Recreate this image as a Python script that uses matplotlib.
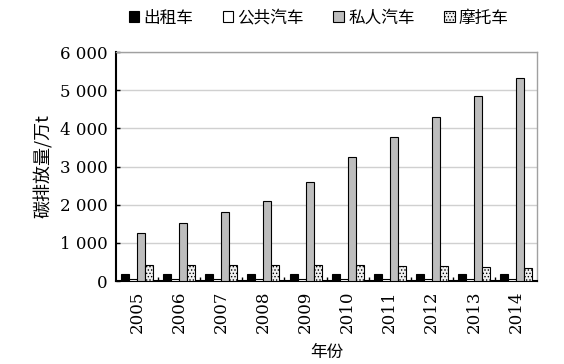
import numpy as np
import matplotlib
matplotlib.use('Agg')
import matplotlib.pyplot as plt
from matplotlib.ticker import FuncFormatter, MultipleLocator

plt.rcParams['font.family'] = ['DejaVu Serif']
plt.rcParams['hatch.linewidth'] = 0.6
cjk = ['Noto Sans CJK SC', 'DejaVu Sans']

# data (万t)
years = ['2005', '2006', '2007', '2008', '2009', '2010', '2011', '2012', '2013', '2014']
taxi = [180, 180, 180, 180, 180, 180, 180, 180, 180, 180]
bus = [50, 50, 50, 50, 50, 50, 50, 50, 50, 50]
private_car = [1260, 1510, 1800, 2100, 2600, 3250, 3770, 4300, 4840, 5330]
motorcycle = [430, 430, 430, 420, 420, 410, 400, 400, 370, 330]
series_names = ['出租车', '公共汽车', '私人汽车', '摩托车']

fig = plt.figure(figsize=(5.64, 3.64), dpi=100)
ax = fig.add_axes([0.206, 0.228, 0.746, 0.629])

x = np.arange(len(years))
w = 0.19
ax.bar(x - 1.5 * w, taxi, w, color='black', edgecolor='black', lw=0.8, label=series_names[0], zorder=3)
ax.bar(x - 0.5 * w, bus, w, color='white', edgecolor='black', lw=0.8, label=series_names[1], zorder=3)
ax.bar(x + 0.5 * w, private_car, w, color='#bdbdbd', edgecolor='black', lw=0.8, label=series_names[2], zorder=3)
ax.bar(x + 1.5 * w, motorcycle, w, color='#f0f0f0', edgecolor='black', lw=0.8, hatch='.....',
       label=series_names[3], zorder=3)

ax.set_xlim(-0.5, len(years) - 0.5)
ax.set_ylim(0, 6000)
ax.yaxis.set_major_locator(MultipleLocator(1000))
ax.yaxis.set_major_formatter(FuncFormatter(lambda v, p: f'{int(v):,}'.replace(',', ' ')))
ax.grid(axis='y', color='#d0d0d0', lw=1, zorder=0)

ax.set_xticks(x)
ax.set_xticklabels(years, rotation=90)
ax.set_xticks(np.arange(0.5, len(years) - 1, 1), minor=True)
ax.tick_params(axis='x', which='major', length=0, pad=7, labelsize=12)
ax.tick_params(axis='x', which='minor', length=3, direction='in', width=1)
ax.tick_params(axis='y', length=3, direction='in', width=1, labelsize=12, pad=6)

for s in ['top', 'right']:
    ax.spines[s].set_color('#a0a0a0')
    ax.spines[s].set_linewidth(1)
for s in ['left', 'bottom']:
    ax.spines[s].set_color('black')
    ax.spines[s].set_linewidth(1.5)

ax.set_ylabel('碳排放量/万t', family=cjk, fontsize=13, labelpad=5)
ax.set_xlabel('年份', family=cjk, fontsize=12, labelpad=8)

fig.legend(loc='center', bbox_to_anchor=(0.565, 0.95), ncol=4, frameon=False,
           prop={'family': cjk, 'size': 12}, handlelength=0.65, handleheight=0.65,
           handletextpad=0.25, columnspacing=1.75)

fig.savefig('out.png', dpi=100)
